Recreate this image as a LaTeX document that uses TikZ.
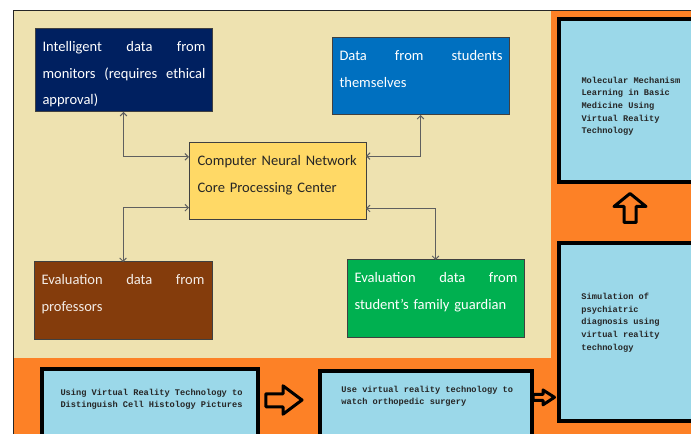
\documentclass[tikz,border=0pt]{standalone}
\usepackage{fontspec}
\setmainfont{Carlito}
\newfontfamily\vrmono{Liberation Mono}
\usetikzlibrary{calc,arrows.meta}

\definecolor{framebeige}{RGB}{238,226,176}
\definecolor{frameorange}{RGB}{253,129,38}
\definecolor{navyfill}{RGB}{0,32,96}
\definecolor{bluefill}{RGB}{0,112,192}
\definecolor{corefill}{RGB}{255,217,102}
\definecolor{brownfill}{RGB}{132,60,12}
\definecolor{greenfill}{RGB}{0,176,80}
\definecolor{vrfill}{RGB}{155,216,233}
\definecolor{linkgray}{RGB}{95,95,95}

\tikzset{every picture/.style={line width=0.75pt}}
\tikzset{
	databox/.style={draw=black!75, line width=0.75pt, anchor=north west, inner sep=0pt, outer sep=0pt, minimum width=132.75pt, minimum height=57.75pt},
	datatext/.style={anchor=north west, inner sep=0pt, text width=122.25pt, align=left, font=\fontsize{10.9}{19.9}\selectfont, text=white, xshift=5.25pt, yshift=-9pt},
	vrbox/.style={draw=black, line width=3pt, fill=vrfill, anchor=north west, inner sep=0pt, outer sep=0pt},
	vrtext/.style={anchor=north west, inner sep=0pt, align=left, font=\vrmono\bfseries\fontsize{6.5}{9.5}\selectfont, text=black!85},
	link/.style={draw=linkgray, line width=0.75pt, {Straight Barb[length=2.5pt,width=5pt]}-{Straight Barb[length=2.5pt,width=5pt]}},
	blockarrow/.style={draw=black, line width=2.25pt, fill=frameorange, line join=round}
}

\begin{document}
\begin{tikzpicture}[x=0.75pt,y=0.75pt,yscale=-1,xscale=1]
	\useasboundingbox (0,0) rectangle (691,434);
	\clip (0,0) rectangle (691,434);
	
	%Shape: Rectangle [frame]
	\fill [frameorange] (13,11) rectangle (700,440);
	\fill [framebeige] (13,11) rectangle (551,357.5);
	\draw [black!85] (13,440) -- (13,11) -- (700,11);
	
	%Shape: Rectangle [data sources]
	\node (navy) [databox, fill=navyfill, minimum height=62.25pt,
		label={[datatext]north west:Intelligent\hfill data\hfill from\\monitors\hfill (requires\hfill ethical\\approval)}] at (35,29) {};
	\node (blue) [databox, fill=bluefill,
		label={[datatext]north west:Data\hfill from\hfill students\\themselves}] at (332,38) {};
	\node (core) [databox, fill=corefill,
		label={[datatext, text=black!85, xshift=0.75pt]north west:Computer Neural Network\\Core Processing Center}] at (189,143) {};
	\node (brown) [databox, fill=brownfill, minimum width=133.5pt,
		label={[datatext, text=white!90!brownfill]north west:Evaluation\hfill data\hfill from\\professors}] at (34,262) {};
	\node (green) [databox, fill=greenfill,
		label={[datatext]north west:Evaluation\hfill data\hfill from\\student's family guardian}] at (347,260) {};
	
	%Straight Lines [links]
	\draw [link] (navy.south) |- ($(core.north west)!0.18!(core.south west)$);
	\draw [link] (blue.south) |- ($(core.north east)!0.17!(core.south east)$);
	\draw [link] ($(core.north west)!0.84!(core.south west)$) -| (brown.north);
	\draw [link] ($(core.north east)!0.85!(core.south east)$) -| (green.north);
	
	%Shape: Rectangle [VR courses]
	\node (molecular) [vrbox, minimum width=105.5pt, minimum height=122.25pt,
		label={[vrtext, xshift=16.3pt, yshift=-43pt]north west:Molecular Mechanism\\Learning in Basic\\Medicine Using\\Virtual Reality\\Technology}] at (559.3,19) {};
	\node (psychiatric) [vrbox, minimum width=106pt, minimum height=133.35pt,
		label={[vrtext, xshift=16.7pt, yshift=-37.4pt]north west:Simulation of\\psychiatric\\diagnosis using\\virtual reality\\technology}] at (558.7,242.7) {};
	\node (histology) [vrbox, minimum width=162pt, minimum height=70pt,
		label={[vrtext, xshift=13.5pt, yshift=-14.6pt]north west:Using Virtual Reality Technology to\\Distinguish Cell Histology Pictures}] at (42,369) {};
	\node (orthopedic) [vrbox, minimum width=159pt, minimum height=70pt,
		label={[vrtext, xshift=15.5pt, yshift=-11.1pt]north west:Use virtual reality technology to\\watch orthopedic surgery}] at (320.3,370.7) {};
	
	%Shape: Right Arrow
	\draw [blockarrow] (265.8,393.8) -- (283,393.8) -- (283,385.8) -- (302,400) -- (283,414.2) -- (283,406.8) -- (265.8,406.8) -- cycle;
	%Shape: Right Arrow
	\draw [blockarrow] (533,394.3) -- (543,394.3) -- (543,390) -- (554.5,397.3) -- (543,404.8) -- (543,400.3) -- (533,400.3) -- cycle;
	%Shape: Up Arrow
	\draw [blockarrow] (630,193.5) -- (646,206.5) -- (636,206.5) -- (636,222.5) -- (624,222.5) -- (624,206.5) -- (614,206.5) -- cycle;
	
\end{tikzpicture}
\end{document}
